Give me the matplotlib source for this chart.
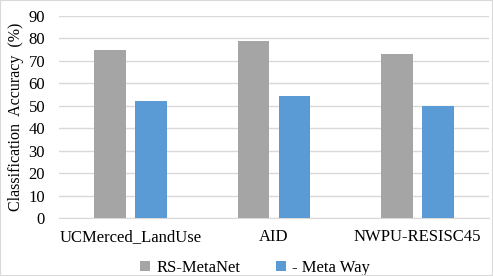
import matplotlib.pyplot as plt
import numpy as np

# data
datasets = ['UCMerced_LandUse', 'AID', 'NWPU-RESISC45']
rs_metanet = [75, 79, 73.2]
meta_way = [52, 54.5, 50]
series_names = ['RS-MetaNet', '- Meta Way']

plt.rcParams['font.family'] = ['Liberation Serif', 'DejaVu Serif']

fig = plt.figure(figsize=(4.93, 2.76), dpi=100)
ax = fig.add_axes([59/493, 1 - 218/276, 430/493, 202/276])

x = np.arange(len(datasets))
w = 0.223
off = 0.143
ax.bar(x - off, rs_metanet, w, color='#a5a5a5', label=series_names[0], zorder=3)
ax.bar(x + off, meta_way, w, color='#5b9bd5', label=series_names[1], zorder=3)

ax.set_xlim(-0.5, 2.5)
ax.set_ylim(0, 90)
ax.set_yticks(range(0, 91, 10))
ax.set_xticks(x)
ax.set_xticklabels(datasets, fontsize=12)
ax.tick_params(axis='y', labelsize=12, length=0, pad=10)
ax.tick_params(axis='x', length=0, pad=8)
ax.grid(axis='y', color='#d9d9d9', linewidth=1, zorder=0)
for s in ['top', 'right', 'left']:
    ax.spines[s].set_visible(False)
ax.spines['bottom'].set_color('#d9d9d9')

ax.set_ylabel('Classification  Accuracy  (%)', fontsize=11.5, labelpad=3)

ax.legend(loc='center left', bbox_to_anchor=(125/493, 8/276),
          bbox_transform=fig.transFigure, ncol=2,
          frameon=False, fontsize=12, handlelength=0.6, handleheight=0.6,
          columnspacing=2.1, handletextpad=0.4)

# outer frame
fig.patches.append(plt.Rectangle((0, 0), 1, 1, transform=fig.transFigure,
                                 fill=False, edgecolor='#d9d9d9', linewidth=1.5))

fig.savefig('out.png', dpi=100)
